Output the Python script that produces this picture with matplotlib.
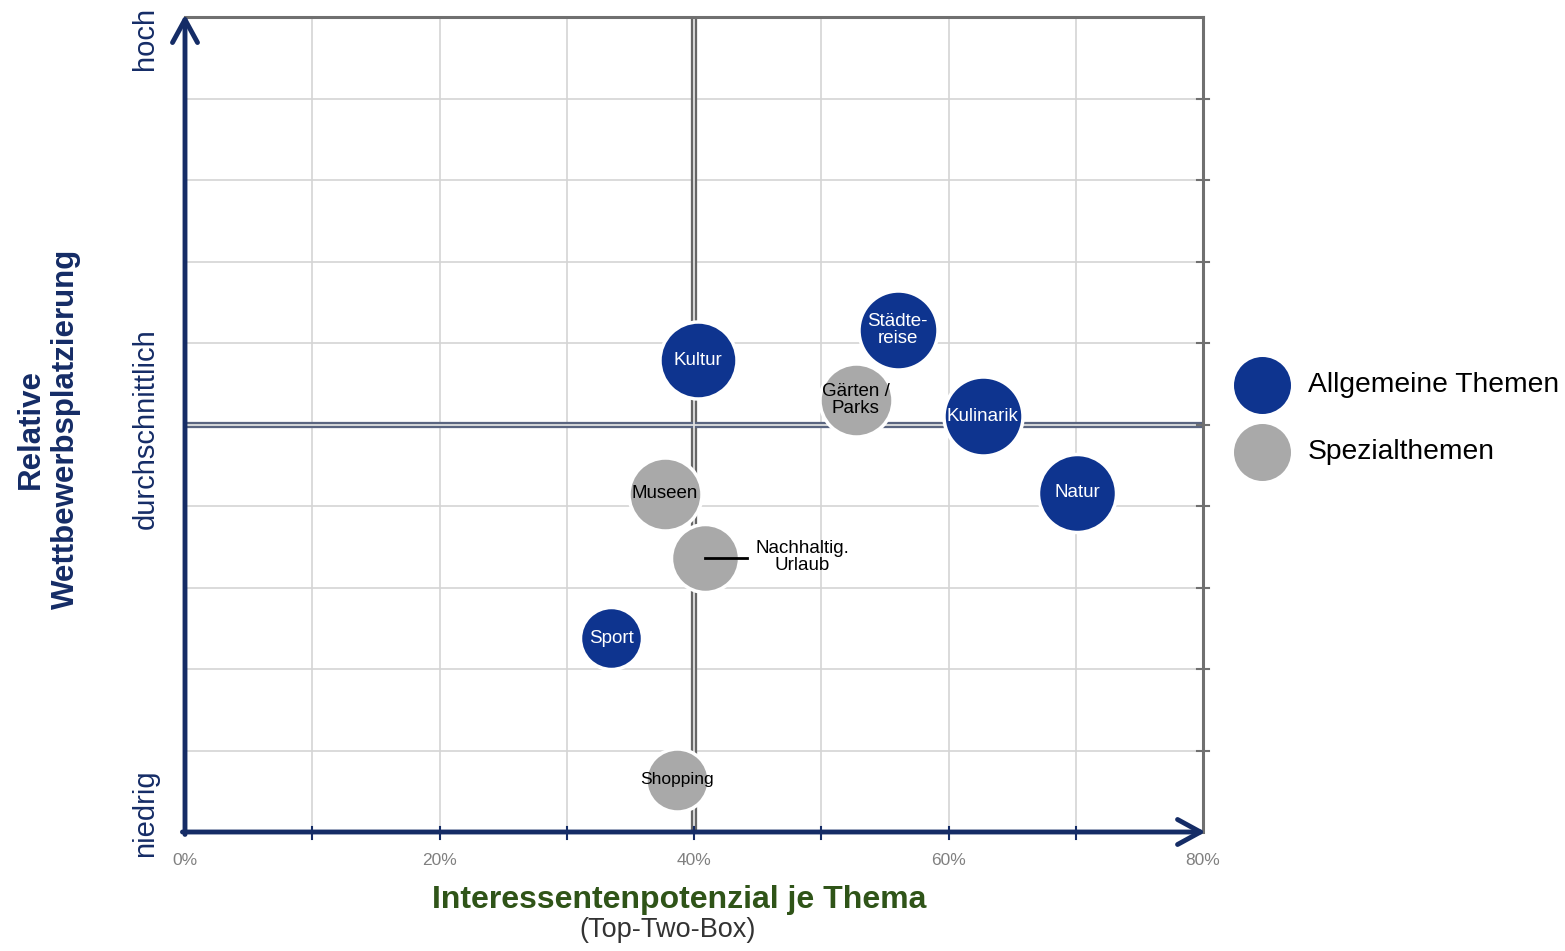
import numpy as np
import matplotlib.pyplot as plt

plt.rcParams['font.family'] = ['Liberation Sans', 'DejaVu Sans']

# Themen: Interessentenpotenzial (%), relative Wettbewerbsplatzierung (0-100), Blasengroesse
labels = ['Kultur', 'Städte-\nreise', 'Gärten /\nParks', 'Kulinarik', 'Natur',
          'Museen', '', 'Sport', 'Shopping']
x_vals = [40.3, 56.0, 52.7, 62.7, 70.1, 37.7, 40.9, 33.5, 38.7]
y_vals = [57.9, 61.6, 53.0, 51.0, 41.6, 41.5, 33.6, 23.8, 6.4]
bubble = [38.5, 39.5, 36.5, 39.5, 39.0, 36.5, 34.0, 31.0, 31.5]
group = ['A', 'A', 'S', 'A', 'A', 'S', 'S', 'A', 'S']

x_ticks = [0, 20, 40, 60, 80]
x_ticklabels = ['0%', '20%', '40%', '60%', '80%']
y_levels = ['niedrig', 'durchschnittlich', 'hoch']
y_level_pos = [2.3, 49.5, 97.4]

legend_labels = ['Allgemeine Themen', 'Spezialthemen']

BLUE = '#0e348f'
GRAY = '#a9a9a9'
NAVY = '#152c66'
colors = {'A': BLUE, 'S': GRAY}
txtcol = {'A': 'white', 'S': 'black'}

fig = plt.figure(figsize=(15.65, 9.51), dpi=100)
ax = fig.add_axes([185 / 1565, 119 / 951, 1018 / 1565, 815 / 951])
ax.set_xlim(0, 80)
ax.set_ylim(0, 100)

# Raster
for gx in np.arange(10, 80, 10):
    ax.plot([gx, gx], [0, 100], color='#d4d4d4', lw=1.2, zorder=1)
for gy in np.arange(10, 100, 10):
    ax.plot([0, 80], [gy, gy], color='#d4d4d4', lw=1.2, zorder=1)

# Mittellinien (doppelt)
ax.plot([40, 40], [0, 100], color='#666666', lw=4.5, zorder=2, solid_capstyle='butt')
ax.plot([40, 40], [0, 100], color='#e0e0e0', lw=1.3, zorder=2.1, solid_capstyle='butt')
ax.plot([0, 80], [50, 50], color='#5a6580', lw=4.5, zorder=2, solid_capstyle='butt')
ax.plot([0, 80], [50, 50], color='#e0e0e0', lw=1.3, zorder=2.1, solid_capstyle='butt')

# Rahmen
for s in ['left', 'bottom']:
    ax.spines[s].set_visible(False)
for s in ['top', 'right']:
    ax.spines[s].set_color('#707070')
    ax.spines[s].set_linewidth(2.2)
ax.set_xticks([])
ax.set_yticks([])

# kleine Markierungen am rechten Rand und an der x-Achse
for gy in np.arange(10, 100, 10):
    ax.plot([79.5, 80.5], [gy, gy], color='#707070', lw=1.5, clip_on=False, zorder=3)
for gx in np.arange(10, 80, 10):
    ax.plot([gx, gx], [-0.8, 0.6], color=NAVY, lw=1.5, clip_on=False, zorder=3)

# Achsenpfeile
arrow = dict(arrowstyle='->,head_length=0.55,head_width=0.3', color=NAVY, lw=3.5,
             mutation_scale=30, shrinkA=0, shrinkB=0)
ax.annotate('', xy=(0, 100.3), xytext=(0, -0.3), arrowprops=arrow, annotation_clip=False, zorder=4)
ax.annotate('', xy=(80.2, 0), xytext=(-0.2, 0), arrowprops=arrow, annotation_clip=False, zorder=4)

# Blasen
for xv, yv, b, g, lab in zip(x_vals, y_vals, bubble, group, labels):
    d = 2 * b * 0.72
    ax.scatter(xv, yv, s=d ** 2, color=colors[g], edgecolor='white', linewidth=2.5,
               zorder=5, clip_on=False)
    if lab:
        fs = 12.5 if lab == 'Shopping' else 13.5
        ax.text(xv, yv, lab, ha='center', va='center', color=txtcol[g], fontsize=fs,
                zorder=6, linespacing=1.0)

# Beschriftung Nachhaltig. Urlaub
ax.plot([x_vals[6], 44.2], [y_vals[6], y_vals[6]], color='black', lw=2, zorder=6)
ax.text(48.5, y_vals[6] + 0.1, 'Nachhaltig.\nUrlaub', ha='center', va='center',
        fontsize=13.5, color='black', linespacing=1.0, zorder=6)

# x-Achsenbeschriftung
for t, tl in zip(x_ticks, x_ticklabels):
    ax.text(t, -3.5, tl, ha='center', va='center', fontsize=12.5, color='#808080')
ax.text(0.485, -0.083, 'Interessentenpotenzial je Thema', transform=ax.transAxes,
        ha='center', va='center', fontsize=23, fontweight='bold', color='#2f5418')
ax.text(0.474, -0.12, '(Top-Two-Box)', transform=ax.transAxes,
        ha='center', va='center', fontsize=19.5, color='#333333')

# y-Achsenbeschriftung
for lev, pos in zip(y_levels, y_level_pos):
    ax.text(-0.039, pos, lev, ha='center', va='center', rotation=90,
            fontsize=21, color=NAVY, transform=ax.get_yaxis_transform())
ax.text(-0.134, 49.5, 'Relative\nWettbewerbsplatzierung', ha='center', va='center',
        rotation=90, fontsize=22.5, fontweight='bold', color=NAVY, linespacing=1.25,
        transform=ax.get_yaxis_transform())

# Legende
for i, (lab, c) in enumerate(zip(legend_labels, [BLUE, GRAY])):
    yy = (951 - 385 - 67 * i) / 951
    fig.add_artist(plt.Line2D([1262 / 1565], [yy], marker='o', markersize=2 * 28.5 * 0.72,
                              markerfacecolor=c, markeredgecolor='none',
                              transform=fig.transFigure))
    fig.text(1308 / 1565, yy, lab, ha='left', va='center', fontsize=20.3, color='black')

fig.savefig('out.png', dpi=100)
